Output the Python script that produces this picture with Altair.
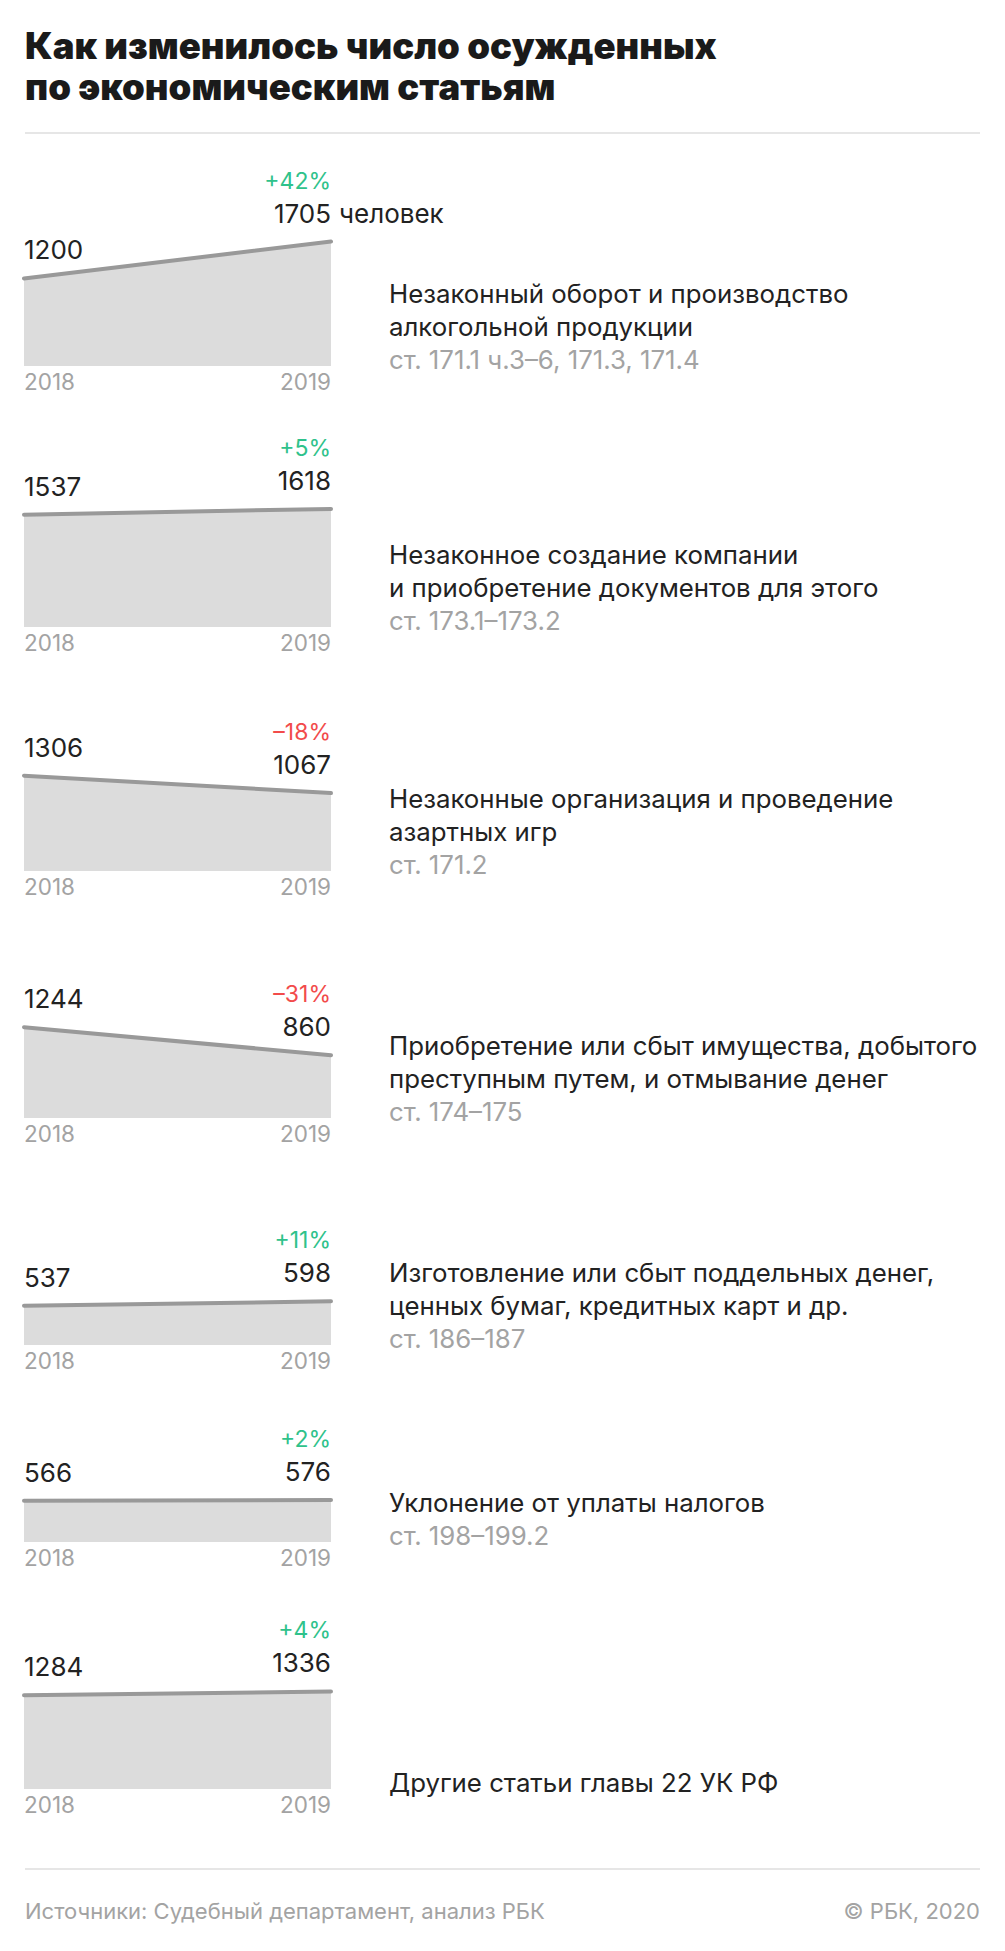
import altair as alt
import pandas as pd

# ---------------- data ----------------
TITLE_LINES = ["Как изменилось число осужденных", "по экономическим статьям"]
YEARS = [2018, 2019]
V2018 = [1200, 1537, 1306, 1244, 537, 566, 1284]
V2019 = [1705, 1618, 1067, 860, 598, 576, 1336]
CHANGE = ["+42%", "+5%", "–18%", "–31%", "+11%", "+2%", "+4%"]
UNITS = ["человек", "", "", "", "", "", ""]
DESC = [
    ["Незаконный оборот и производство", "алкогольной продукции"],
    ["Незаконное создание компании", "и приобретение документов для этого"],
    ["Незаконные организация и проведение", "азартных игр"],
    ["Приобретение или сбыт имущества, добытого", "преступным путем, и отмывание денег"],
    ["Изготовление или сбыт поддельных денег,", "ценных бумаг, кредитных карт и др."],
    ["Уклонение от уплаты налогов"],
    ["Другие статьи главы 22 УК РФ"],
]
ARTICLES = ["ст. 171.1 ч.3–6, 171.3, 171.4", "ст. 173.1–173.2", "ст. 171.2",
            "ст. 174–175", "ст. 186–187", "ст. 198–199.2", ""]
SOURCE = "Источники: Судебный департамент, анализ РБК"
COPYRIGHT = "© РБК, 2020"

# ---------------- layout / style ----------------
W = 1005
FONT = "Inter"
PX = 0.073            # pixels per convicted person
BELOW = 40            # room under the baseline inside a panel
PANEL_H = [266, 261, 244, 247, 227, 197, 247]
HEADER_H = 140
FOOTER_H = 122
X0, X1 = 24, 331      # pixel positions of 2018 / 2019
TEXT_X = 389
LINE_GAP = 33
DARK = "#222222"
GREY_TXT = "#a3a3a3"
GREEN = "#2fc28b"
RED = "#f24b4b"
VAL_SIZE = 26
PCT_SIZE = 23
YEAR_SIZE = 22.5
DESC_SIZE = 25.8
TITLE_SIZE = 36.5

span = X1 - X0
xscale = alt.Scale(domain=[YEARS[0] - X0 / span, YEARS[0] + (W - X0) / span],
                   range=[0, W], nice=False, zero=False)


def panel(i):
    h = PANEL_H[i]
    ys = alt.Scale(domain=[-BELOW / PX, (h - BELOW) / PX], nice=False, zero=False)
    df = pd.DataFrame({
        "year": YEARS,
        "value": [V2018[i], V2019[i]],
        "ylab": [str(y) for y in YEARS],
        "base": [0, 0],
        "unit": [UNITS[i], UNITS[i]],
        "chg": [CHANGE[i], CHANGE[i]],
    })
    x = alt.X("year:Q", scale=xscale, axis=None)
    y = alt.Y("value:Q", scale=ys, axis=None)
    yb = alt.Y("base:Q", scale=ys, axis=None)
    base = alt.Chart(df)
    first = base.transform_filter(alt.datum.year == YEARS[0])
    last = base.transform_filter(alt.datum.year == YEARS[1])

    layers = [
        base.mark_area(color="#dcdcdc").encode(x=x, y=y),
        base.mark_line(color="#999999", strokeWidth=4, strokeCap="round").encode(x=x, y=y),
        first.mark_text(align="left", baseline="middle", dy=-27, fontSize=VAL_SIZE,
                        font=FONT, color=DARK).encode(x=x, y=y, text=alt.Text("value:Q", format="d")),
        last.mark_text(align="right", baseline="middle", dy=-27, fontSize=VAL_SIZE,
                       font=FONT, color=DARK).encode(x=x, y=y, text=alt.Text("value:Q", format="d")),
        last.mark_text(align="right", baseline="middle", dy=-60, fontSize=PCT_SIZE, font=FONT,
                       color=GREEN if CHANGE[i].startswith("+") else RED).encode(x=x, y=y, text="chg:N"),
        first.mark_text(align="left", baseline="middle", dy=17, fontSize=YEAR_SIZE,
                        font=FONT, color=GREY_TXT).encode(x=x, y=yb, text="ylab:N"),
        last.mark_text(align="right", baseline="middle", dy=17, fontSize=YEAR_SIZE,
                       font=FONT, color=GREY_TXT).encode(x=x, y=yb, text="ylab:N"),
    ]
    if UNITS[i]:
        layers.append(last.mark_text(align="left", baseline="middle", dy=-27, dx=8, fontSize=VAL_SIZE,
                                     font=FONT, color=DARK).encode(x=x, y=y, text="unit:N"))

    lines = [(t, DARK) for t in DESC[i]]
    if ARTICLES[i]:
        lines.append((ARTICLES[i], GREY_TXT))
    n = len(lines)
    for k, (t, c) in enumerate(lines):
        d = pd.DataFrame({"t": [t], "base": [0]})
        layers.append(
            alt.Chart(d).mark_text(align="left", baseline="middle", fontSize=DESC_SIZE, font=FONT,
                                   color=c, dy=-5 - LINE_GAP * (n - 1 - k))
            .encode(x=alt.value(TEXT_X), y=yb, text="t:N")
        )
    return alt.layer(*layers).properties(width=W, height=h)


one = pd.DataFrame({"a": [0]})
header = alt.layer(
    alt.Chart(pd.DataFrame({"t": [TITLE_LINES[0]]})).mark_text(
        align="left", baseline="alphabetic", fontSize=TITLE_SIZE, fontWeight=900, font=FONT, color="#1a1a1a"
    ).encode(x=alt.value(25), y=alt.value(59), text="t:N"),
    alt.Chart(pd.DataFrame({"t": [TITLE_LINES[1]]})).mark_text(
        align="left", baseline="alphabetic", fontSize=TITLE_SIZE, fontWeight=900, font=FONT, color="#1a1a1a"
    ).encode(x=alt.value(25), y=alt.value(100), text="t:N"),
    alt.Chart(one).mark_rule(color="#e6e6e6", strokeWidth=2).encode(
        x=alt.value(25), x2=alt.value(980), y=alt.value(133)),
).properties(width=W, height=HEADER_H)

footer = alt.layer(
    alt.Chart(one).mark_rule(color="#e6e6e6", strokeWidth=2).encode(
        x=alt.value(25), x2=alt.value(980), y=alt.value(40)),
    alt.Chart(pd.DataFrame({"t": [SOURCE]})).mark_text(
        align="left", baseline="middle", fontSize=22, font=FONT, color=GREY_TXT
    ).encode(x=alt.value(25), y=alt.value(83), text="t:N"),
    alt.Chart(pd.DataFrame({"t": [COPYRIGHT]})).mark_text(
        align="right", baseline="middle", fontSize=22, font=FONT, color=GREY_TXT
    ).encode(x=alt.value(980), y=alt.value(83), text="t:N"),
).properties(width=W, height=FOOTER_H)

chart = alt.vconcat(header, *[panel(i) for i in range(7)], footer, spacing=0).properties(
    padding=0, background="white"
).configure_view(stroke=None)

chart.save("out.html", embed_options={"renderer": "svg", "actions": False})
